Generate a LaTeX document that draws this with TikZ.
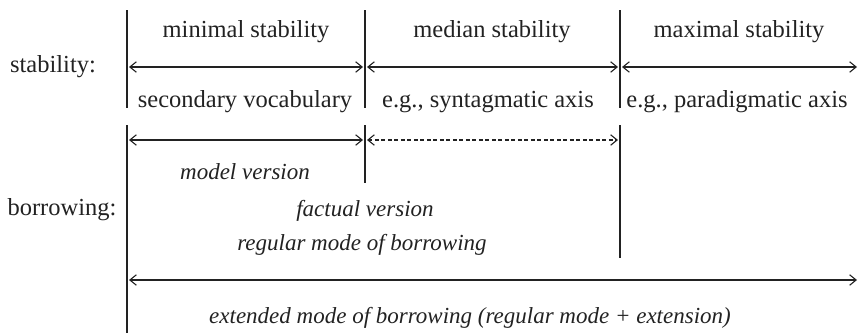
\documentclass[tikz,border=0pt]{standalone}
\usepackage{fontspec}
\setmainfont{Liberation Serif}
\usetikzlibrary{arrows.meta}
\definecolor{ink}{HTML}{222222}
\begin{document}
\begin{tikzpicture}[x=1pt,y=-1pt,
  txt/.style={inner sep=0pt,anchor=base,text=ink,font=\fontsize{24.5}{28}\selectfont},
  itx/.style={inner sep=0pt,anchor=base,text=ink,font=\fontsize{23}{28}\selectfont\itshape},
  bar/.style={draw=ink,line width=1.2pt},
  span/.style={draw=ink,line width=1.1pt,{Straight Barb[length=6.5pt,width=10.5pt,line width=1.1pt]}-{Straight Barb[length=6.5pt,width=10.5pt,line width=1.1pt]},shorten <=2pt,shorten >=2pt},
  dspan/.style={span,dash pattern=on 4pt off 2.5pt}]
\useasboundingbox (0,0) rectangle (858,333);
% vertical bars, stability block
\coordinate (s1t) at (127,10); \coordinate (s1b) at (127,108);
\coordinate (s2t) at (365,10); \coordinate (s2b) at (365,108);
\coordinate (s3t) at (620,10); \coordinate (s3b) at (620,108);
\draw[bar] (s1t) -- (s1b);
\draw[bar] (s2t) -- (s2b);
\draw[bar] (s3t) -- (s3b);
% vertical bars, borrowing block
\coordinate (b1t) at (127,125); \coordinate (b1b) at (127,333);
\coordinate (b2t) at (365,125); \coordinate (b2b) at (365,183);
\coordinate (b3t) at (620,125); \coordinate (b3b) at (620,258);
\draw[bar] (b1t) -- (b1b);
\draw[bar] (b2t) -- (b2b);
\draw[bar] (b3t) -- (b3b);
% arrow end points
\coordinate (r1a) at (127,67); \coordinate (r1b) at (365,67);
\coordinate (r1c) at (620,67); \coordinate (r1d) at (859,67);
\coordinate (r2a) at (127,140); \coordinate (r2b) at (365,140);
\coordinate (r2c) at (620,140);
\coordinate (r3a) at (127,280); \coordinate (r3b) at (859,280);
\draw[span] (r1a) -- (r1b);
\draw[span] (r1b) -- (r1c);
\draw[span] (r1c) -- (r1d);
\draw[span] (r2a) -- (r2b);
\draw[dspan] (r2b) -- (r2c);
\draw[span] (r3a) -- (r3b);
% labels
\node[txt] (lstab) at (53,72) {stability:};
\node[txt] (lborr) at (62,215) {borrowing:};
\node[txt] (min) at (246,37) {minimal stability};
\node[txt] (med) at (492,37) {median stability};
\node[txt] (max) at (739,37) {maximal stability};
\node[txt] (sec) at (245,107) {secondary vocabulary};
\node[txt] (syn) at (488,107) {e.g., syntagmatic axis};
\node[txt] (par) at (737,107) {e.g., paradigmatic axis};
\node[itx] (model) at (245,179) {model version};
\node[itx] (fact) at (365,216) {factual version};
\node[itx] (reg) at (362,250) {regular mode of borrowing};
\node[itx] (ext) at (470,323) {extended mode of borrowing (regular mode + extension)};
\end{tikzpicture}
\end{document}
